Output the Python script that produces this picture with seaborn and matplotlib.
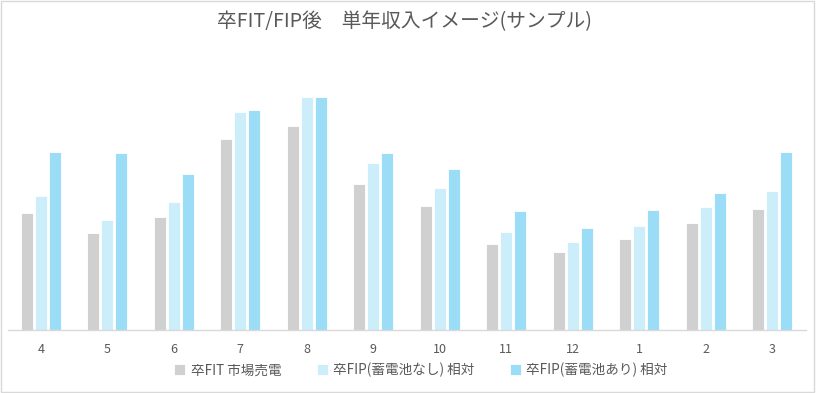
import pandas as pd
import matplotlib
matplotlib.use('Agg')
import matplotlib.pyplot as plt
import seaborn as sns
from matplotlib.patches import Rectangle

# 月 (4月始まり)
months = ['4', '5', '6', '7', '8', '9', '10', '11', '12', '1', '2', '3']
series_names = ['卒FIT 市場売電', '卒FIP(蓄電池なし) 相対', '卒FIP(蓄電池あり) 相対']

# 単年収入イメージ (相対値、絵から読み取り)
fit_market = [117, 97, 113, 191, 204, 146, 124, 86, 78, 91, 107, 121]
fip_no_batt = [134, 110, 128, 218, 233, 167, 142, 98, 88, 104, 123, 139]
fip_batt = [178, 177, 156, 220, 233, 177, 161, 119, 102, 120, 137, 178]

colors = ['#D0D0D0', '#CCEEFB', '#9BDCF6']

rows = []
for name, vals in zip(series_names, [fit_market, fip_no_batt, fip_batt]):
    for m, v in zip(months, vals):
        rows.append({'month': m, 'series': name, 'value': v})
df = pd.DataFrame(rows)

sns.set_style('white')
plt.rcParams['font.family'] = ['Noto Sans CJK JP', 'DejaVu Sans']

fig = plt.figure(figsize=(8.16, 3.93), dpi=100)
ax = fig.add_axes([0.0092, 0.160, 0.978, 0.636])

sns.barplot(data=df, x='month', y='value', hue='series', order=months,
            hue_order=series_names, palette=colors, saturation=1, width=0.63, gap=0.15,
            edgecolor='white', linewidth=0.6, errorbar=None, ax=ax, legend=True)

ax.set_ylim(0, 250)
ax.set_xlim(-0.5, len(months) - 0.5)
ax.set_xlabel('')
ax.set_ylabel('')
ax.set_yticks([])
ax.tick_params(axis='x', length=0, pad=9, labelsize=9, labelcolor='#595959')
for s in ['top', 'left', 'right']:
    ax.spines[s].set_visible(False)
ax.spines['bottom'].set_color('#D9D9D9')
ax.spines['bottom'].set_linewidth(1.0)

handles, labels = ax.get_legend_handles_labels()
ax.get_legend().remove()
fig.legend(handles, labels, loc='center', bbox_to_anchor=(0.516, 1 - 370 / 393), ncol=3,
           frameon=False, fontsize=9.8, labelcolor='#595959', handlelength=0.8,
           handleheight=0.8, handletextpad=0.4, columnspacing=2.6)

fig.text(0.496, 1 - 22 / 393, '卒FIT/FIP後\u3000単年収入イメージ(サンプル)',
         ha='center', va='center', fontsize=14.2, color='#595959')

fig.patches.append(Rectangle((0.001, 0.002), 0.997, 0.995, transform=fig.transFigure,
                             fill=False, edgecolor='#D9D9D9', linewidth=1.0))

fig.savefig('out.png', dpi=100)
